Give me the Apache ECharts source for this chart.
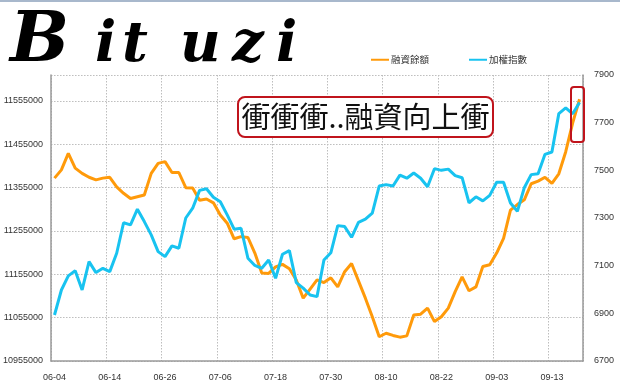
<!DOCTYPE html>
<html><head><meta charset="utf-8">
<script src="https://cdn.jsdelivr.net/npm/echarts@6.0.0/dist/echarts.min.js"></script>
<style>html,body{margin:0;padding:0;background:#fff}#c{width:620px;height:390px}</style>
</head><body><div id="c"></div>
<script>
const dates = [
 '06-04','06-05','06-06','06-07','06-08','06-11','06-12','06-13',
 '06-14','06-15','06-18','06-19','06-20','06-21','06-22','06-25',
 '06-26','06-27','06-28','06-29','07-02','07-03','07-04','07-05',
 '07-06','07-09','07-10','07-11','07-12','07-13','07-16','07-17',
 '07-18','07-19','07-20','07-23','07-24','07-25','07-26','07-27',
 '07-30','07-31','08-01','08-03','08-06','08-07','08-08','08-09',
 '08-10','08-13','08-14','08-15','08-16','08-17','08-20','08-21',
 '08-22','08-23','08-24','08-27','08-28','08-29','08-30','08-31',
 '09-03','09-04','09-05','09-06','09-07','09-10','09-11','09-12',
 '09-13','09-14','09-17','09-18','09-19'
];
const marginBalance = [
 11377000,11396000,11434000,11400000,11388000,11379000,11373000,11377000,
 11379000,11357000,11342000,11330000,11334000,11338000,11388000,11411000,
 11415000,11390000,11390000,11355000,11354000,11326000,11329000,11320000,
 11292000,11273000,11237000,11242000,11240000,11204000,11158000,11157000,
 11172000,11178000,11168000,11142000,11100000,11121000,11142000,11136000,
 11147000,11126000,11161000,11180000,11140000,11100000,11057000,11011000,
 11019000,11014000,11010000,11013000,11061000,11063000,11077000,11046000,
 11057000,11077000,11115000,11149000,11117000,11126000,11173000,11177000,
 11204000,11238000,11303000,11316000,11327000,11364000,11370000,11379000,
 11365000,11387000,11438000,11504000,11559000
];
const taiex = [
 6893,6998,7057,7079,6998,7117,7071,7089,
 7075,7152,7280,7271,7337,7285,7229,7159,
 7138,7183,7173,7300,7341,7416,7423,7387,
 7368,7313,7253,7257,7131,7101,7089,7124,
 7047,7148,7163,7029,7006,6977,6970,7124,
 7154,7268,7264,7219,7282,7295,7320,7434,
 7440,7434,7480,7467,7489,7467,7431,7507,
 7500,7505,7478,7469,7364,7389,7372,7395,
 7450,7450,7363,7328,7427,7482,7486,7567,
 7577,7738,7762,7737,7785
];
const seriesNames = ['融資餘額','加權指數'];
const annotation = '衝衝衝..融資向上衝';
const logoLetters = ['B','i','t','u','z','i'];

const chart = echarts.init(document.getElementById('c'), null, {renderer:'canvas'});
const axisFont = {fontFamily:'Liberation Sans, Arial, sans-serif', fontSize:9, color:'#333'};
const plain = v => String(v);
const gridLine = {show:true, lineStyle:{color:'#bdbdbd', type:[1.5,1.5], width:1}};
const letterPos = [[10,78,70],[95,74,56],[122,74,56],[180,74,56],[232,74,56],[276,74,56]];
const logo = logoLetters.map((ch,i)=>({
  type:'text', x:letterPos[i][0], y:letterPos[i][1], z:10,
  style:{text:ch, fill:'#000', textVerticalAlign:'bottom',
    font:'italic bold '+letterPos[i][2]+'px "DejaVu Serif", serif'}
}));
chart.setOption({
  animation:false,
  backgroundColor:'#fff',
  color:['#ff9a0a','#18c3f0'],
  grid:{left:50,right:37,top:75,bottom:29,containLabel:false},
  legend:{
    data:seriesNames, left:366, top:50, icon:'rect', itemWidth:18, itemHeight:2,
    itemGap:40, textStyle:{fontFamily:'"Noto Sans CJK TC", sans-serif', fontSize:9.5, color:'#333', padding:[0,0,0,-3]}
  },
  xAxis:{
    type:'category', data:dates, boundaryGap:true,
    axisLine:{show:true, lineStyle:{color:'#9a9a9a', width:1.5}},
    axisTick:{show:false},
    axisLabel:Object.assign({interval:7, margin:12}, axisFont),
    splitLine:Object.assign({interval:7}, gridLine)
  },
  yAxis:[
    {type:'value', min:10955000, max:11615000, interval:100000, position:'left',
     axisLine:{show:true, lineStyle:{color:'#9a9a9a', width:1.5}},
     axisTick:{show:false},
     axisLabel:Object.assign({showMaxLabel:false, margin:8, formatter:plain}, axisFont),
     splitLine:gridLine},
    {type:'value', min:6700, max:7900, interval:200, position:'right',
     axisLine:{show:true, lineStyle:{color:'#9a9a9a', width:1.5}},
     axisTick:{show:false},
     axisLabel:Object.assign({margin:11, formatter:plain}, axisFont),
     splitLine:{show:false}}
  ],
  series:[
    {name:seriesNames[0], type:'line', yAxisIndex:0, data:marginBalance, showSymbol:false, symbol:'none',
     lineStyle:{width:3, color:'#ff9a0a'}, itemStyle:{color:'#ff9a0a'}},
    {name:seriesNames[1], type:'line', yAxisIndex:1, data:taiex, showSymbol:false, symbol:'none',
     lineStyle:{width:3, color:'#18c3f0'}, itemStyle:{color:'#18c3f0'}}
  ],
  graphic:[
    {type:'rect', shape:{x:0,y:0,width:620,height:2}, style:{fill:'#a8b8cc'}, z:10},
    ...logo,
    {type:'rect', z:20, shape:{x:238,y:97,width:255,height:40,r:7},
     style:{fill:'#fff', stroke:'#c0141c', lineWidth:2}},
    {type:'text', z:21, x:365.5, y:117,
     style:{text:annotation, fill:'#111', textAlign:'center', textVerticalAlign:'middle',
       font:'normal 29px "Noto Sans CJK TC", sans-serif'}},
    {type:'rect', z:20, shape:{x:571,y:87,width:13,height:55,r:3},
     style:{fill:null, stroke:'#c0141c', lineWidth:2}}
  ]
});
</script>
</body></html>
